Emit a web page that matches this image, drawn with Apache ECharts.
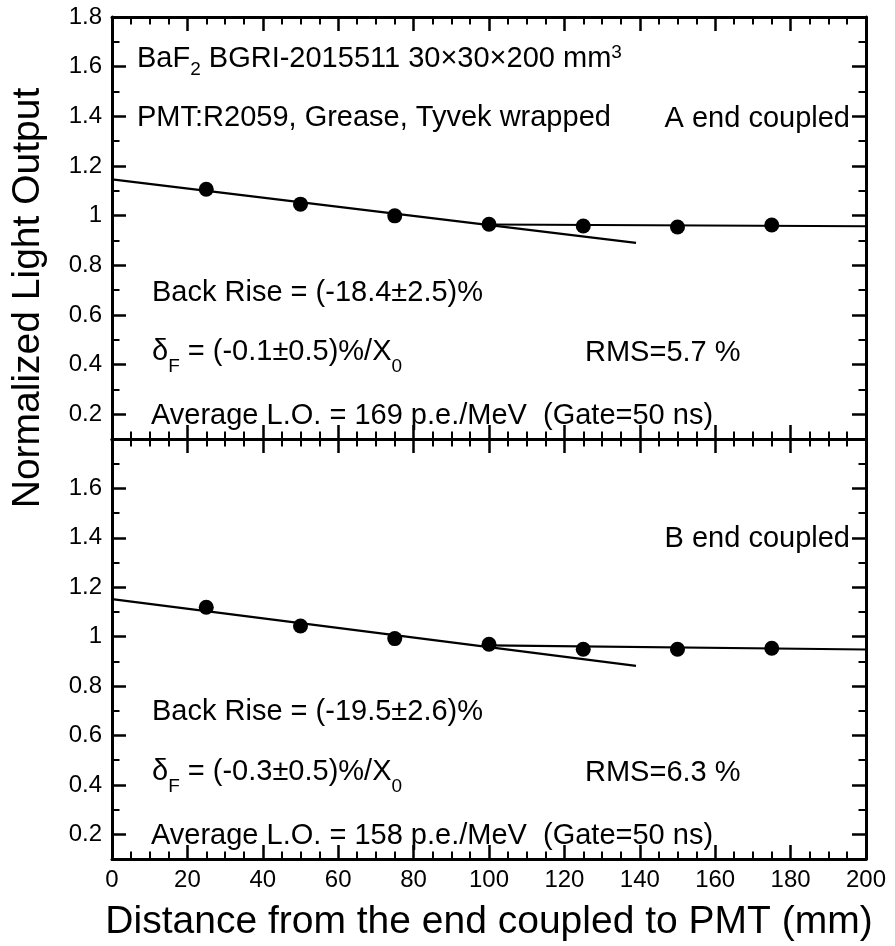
<!DOCTYPE html>
<html>
<head>
<meta charset="utf-8">
<script src="https://cdn.jsdelivr.net/npm/echarts@6/dist/echarts.min.js"></script>
<style>
html,body{margin:0;padding:0;background:#fff;}
#chart{width:895px;height:946px;}
</style>
</head>
<body>
<div id="chart"></div>
<script>
// ---- data ----
const distances = [25, 50, 75, 100, 125, 150, 175];
const loAEnd = [1.106, 1.046, 0.999, 0.965, 0.958, 0.954, 0.962];
const loBEnd = [1.119, 1.043, 0.992, 0.969, 0.949, 0.949, 0.953];
const fitARise = [[0, 1.146], [139, 0.890]];
const fitAFlat = [[100, 0.964], [200, 0.957]];
const fitBRise = [[0, 1.152], [139, 0.882]];
const fitBFlat = [[100, 0.965], [200, 0.948]];
const xTickValues = [0, 20, 40, 60, 80, 100, 120, 140, 160, 180, 200];
const yMajorTicks = [0.2, 0.4, 0.6, 0.8, 1.0, 1.2, 1.4, 1.6, 1.8];
const yLabelsTop = [0.2, 0.4, 0.6, 0.8, 1.0, 1.2, 1.4, 1.6, 1.8];
const yLabelsBottom = [0.2, 0.4, 0.6, 0.8, 1.0, 1.2, 1.4, 1.6];
const yMinorTicks = [0.3, 0.5, 0.7, 0.9, 1.1, 1.3, 1.5, 1.7];

const FONT = '"Liberation Sans", Arial, sans-serif';
const BLACK = '#000';

function xAxisDef(grid, pos, showLabels) {
  return {
    type: 'value', gridIndex: grid, position: pos, min: 0, max: 200, interval: 20,
    axisLine: {show: true, onZero: false, lineStyle: {color: BLACK, width: 3}},
    axisTick: {show: true, inside: true, length: 14, lineStyle: {color: BLACK, width: 2.5}},
    minorTick: {show: true, splitNumber: 4, length: 7.5, lineStyle: {color: BLACK, width: 2}},
    axisLabel: {show: showLabels, color: BLACK, fontSize: 24, fontFamily: FONT, margin: 9},
    splitLine: {show: false}, minorSplitLine: {show: false}
  };
}
function yAxisDef(grid, pos, kind, labels) {
  const major = kind === 'major';
  return {
    type: 'value', gridIndex: grid, position: pos, min: 0.1, max: 1.8,
    axisLine: {show: major, onZero: false, lineStyle: {color: BLACK, width: 3}},
    axisTick: {show: true, inside: true, length: major ? 14 : 7.5,
      customValues: major ? yMajorTicks : yMinorTicks,
      lineStyle: {color: BLACK, width: major ? 2.5 : 2}},
    axisLabel: {show: !!labels, customValues: labels || [], color: BLACK, fontSize: 24, fontFamily: FONT, margin: 10,
      formatter: v => String(Math.round(v * 10) / 10)},
    splitLine: {show: false}
  };
}
function pts(xs, ys) { return xs.map((x, i) => [x, ys[i]]); }

function lineSeries(xi, yi, data) {
  return {type: 'line', xAxisIndex: xi, yAxisIndex: yi, data: data, symbol: 'none',
    lineStyle: {color: BLACK, width: 2.2, opacity: 1}, z: 2, silent: true};
}
function scatterSeries(xi, yi, data) {
  return {type: 'scatter', xAxisIndex: xi, yAxisIndex: yi, data: data, symbol: 'circle',
    symbolSize: 15, itemStyle: {color: BLACK, opacity: 1}, z: 3};
}

const rich = {
  sub: {fontSize: 19, fontFamily: FONT, color: BLACK, verticalAlign: 'middle', padding: [22, 0, 0, 0]},
  subL: {fontSize: 19, fontFamily: FONT, color: BLACK, verticalAlign: 'middle', padding: [30, 0, 0, 0]},
  sup: {fontSize: 19, fontFamily: FONT, color: BLACK, verticalAlign: 'middle', padding: [0, 0, 12, 0]}
};
function note(text, x, y, align) {
  return {type: 'text', x: x, y: y, z: 10, silent: true,
    style: {text: text, fontSize: 29, fontFamily: FONT, fill: BLACK,
      align: align || 'left', verticalAlign: 'middle', rich: rich}};
}

const option = {
  animation: false,
  backgroundColor: '#fff',
  grid: [
    {left: 112, top: 17, width: 754, height: 422},
    {left: 112, top: 439, width: 754, height: 420}
  ],
  xAxis: [
    xAxisDef(0, 'bottom', false), xAxisDef(0, 'top', false),
    xAxisDef(1, 'bottom', true), xAxisDef(1, 'top', false)
  ],
  yAxis: [
    yAxisDef(0, 'left', 'major', yLabelsTop), yAxisDef(0, 'left', 'minor'),
    yAxisDef(0, 'right', 'major'), yAxisDef(0, 'right', 'minor'),
    yAxisDef(1, 'left', 'major', yLabelsBottom), yAxisDef(1, 'left', 'minor'),
    yAxisDef(1, 'right', 'major'), yAxisDef(1, 'right', 'minor')
  ],
  series: [
    lineSeries(0, 0, fitARise), lineSeries(0, 0, fitAFlat),
    scatterSeries(0, 0, pts(distances, loAEnd)),
    lineSeries(2, 4, fitBRise), lineSeries(2, 4, fitBFlat),
    scatterSeries(2, 4, pts(distances, loBEnd))
  ],
  graphic: [
    {type: 'text', x: 28, y: 298, rotation: Math.PI / 2, silent: true,
      style: {text: 'Normalized Light Output', fontSize: 39, fontFamily: FONT, fill: BLACK, align: 'center', verticalAlign: 'middle'}},
    {type: 'text', x: 489, y: 922, silent: true,
      style: {text: 'Distance from the end coupled to PMT (mm)', fontSize: 39, fontFamily: FONT, fill: BLACK, align: 'center', verticalAlign: 'middle'}},
    note('BaF{sub|2} BGRI-2015511 30×30×200 mm{sup|3}', 137, 59),
    note('PMT:R2059, Grease, Tyvek wrapped', 137, 118),
    note('A end coupled', 850, 119, 'right'),
    note('Back Rise = (-18.4±2.5)%', 152, 293),
    note('δ{subL|F} = (-0.1±0.5)%/X{subL|0}', 152, 352),
    note('RMS=5.7 %', 585, 353),
    note('Average L.O. = 169 p.e./MeV  (Gate=50 ns)', 151, 416),
    note('B end coupled', 850, 539, 'right'),
    note('Back Rise = (-19.5±2.6)%', 152, 712),
    note('δ{subL|F} = (-0.3±0.5)%/X{subL|0}', 152, 772),
    note('RMS=6.3 %', 585, 773),
    note('Average L.O. = 158 p.e./MeV  (Gate=50 ns)', 151, 836)
  ]
};
const chart = echarts.init(document.getElementById('chart'), null, {renderer: 'canvas'});
chart.setOption(option);
</script>
</body>
</html>
